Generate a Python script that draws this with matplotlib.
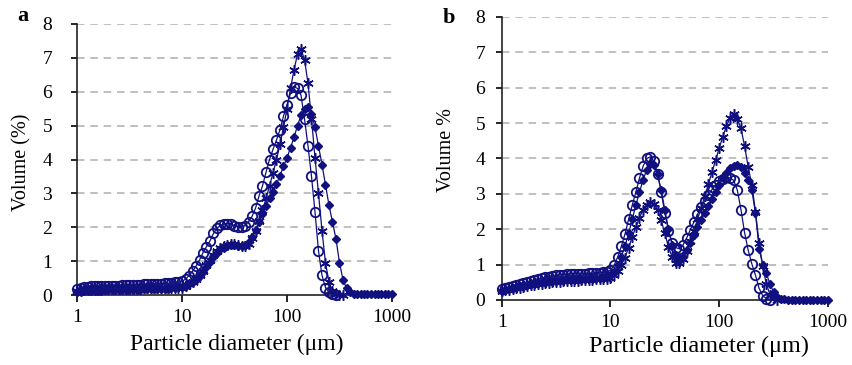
import matplotlib
matplotlib.use("Agg")
import matplotlib.pyplot as plt
from matplotlib.ticker import NullLocator, FixedLocator, FixedFormatter

plt.rcParams['font.family'] = ['Liberation Serif', 'DejaVu Serif']

# Particle diameter channels (um)
diameter = [1.000, 1.080, 1.166, 1.259, 1.359, 1.468, 1.585, 1.711, 1.848, 1.995,
            2.154, 2.326, 2.512, 2.712, 2.929, 3.162, 3.415, 3.687, 3.981, 4.299,
            4.642, 5.012, 5.412, 5.843, 6.310, 6.813, 7.356, 7.943, 8.577, 9.261,
            10.00, 10.80, 11.66, 12.59, 13.59, 14.68, 15.85, 17.11, 18.48, 19.95,
            21.54, 23.26, 25.12, 27.12, 29.29, 31.62, 34.15, 36.87, 39.81, 42.99,
            46.42, 50.12, 54.12, 58.43, 63.10, 68.13, 73.56, 79.43, 85.77, 92.61,
            100.0, 108.0, 116.6, 125.9, 135.9, 146.8, 158.5, 171.1, 184.8, 199.5,
            215.4, 232.6, 251.2, 271.2, 292.9, 316.2, 341.5, 368.7, 398.1, 429.9,
            464.2, 501.2, 541.2, 584.3, 631.0, 681.3, 735.6, 794.3, 857.7, 926.1,
            1000.0]

# Panel a
a_circle = [0.18, 0.22, 0.24, 0.25, 0.26, 0.26, 0.27, 0.27, 0.27, 0.28,
            0.28, 0.28, 0.28, 0.29, 0.29, 0.29, 0.30, 0.30, 0.30, 0.31,
            0.31, 0.32, 0.32, 0.33, 0.33, 0.34, 0.35, 0.36, 0.37, 0.38,
            0.40, 0.47, 0.57, 0.70, 0.85, 1.03, 1.25, 1.43, 1.60, 1.82,
            1.97, 2.06, 2.10, 2.11, 2.09, 2.05, 2.01, 2.00, 2.05, 2.16,
            2.32, 2.56, 2.92, 3.22, 3.62, 4.00, 4.30, 4.58, 4.88, 5.28,
            5.62, 5.95, 6.14, 6.10, 5.90, 5.20, 4.40, 3.50, 2.45, 1.30,
            0.58, 0.22, 0.08, 0.02, 0.00]
a_star = [0.12, 0.14, 0.15, 0.15, 0.16, 0.16, 0.16, 0.17, 0.17, 0.17,
          0.17, 0.18, 0.18, 0.18, 0.18, 0.19, 0.19, 0.19, 0.19, 0.20,
          0.20, 0.20, 0.20, 0.21, 0.21, 0.21, 0.22, 0.22, 0.22, 0.22,
          0.22, 0.26, 0.31, 0.38, 0.47, 0.58, 0.72, 0.88, 1.04, 1.18,
          1.30, 1.38, 1.44, 1.48, 1.50, 1.50, 1.48, 1.45, 1.45, 1.52,
          1.68, 1.90, 2.18, 2.50, 2.85, 3.22, 3.60, 4.00, 4.45, 4.95,
          5.50, 6.10, 6.65, 7.10, 7.25, 6.95, 6.25, 5.20, 4.05, 3.00,
          1.90, 0.95, 0.38, 0.12, 0.04, 0.01, 0.00]
a_diamond = [0.08, 0.10, 0.11, 0.12, 0.12, 0.13, 0.13, 0.13, 0.14, 0.14,
             0.14, 0.15, 0.15, 0.15, 0.15, 0.16, 0.16, 0.16, 0.16, 0.17,
             0.17, 0.17, 0.18, 0.18, 0.18, 0.19, 0.19, 0.20, 0.21, 0.23,
             0.25, 0.28, 0.32, 0.38, 0.45, 0.55, 0.68, 0.82, 0.97, 1.12,
             1.25, 1.35, 1.40, 1.45, 1.47, 1.47, 1.46, 1.45, 1.48, 1.56,
             1.72, 1.92, 2.15, 2.40, 2.62, 2.85, 3.05, 3.28, 3.52, 3.80,
             4.05, 4.35, 4.65, 5.00, 5.30, 5.50, 5.55, 5.35, 4.95, 4.40,
             3.85, 3.25, 2.65, 2.15, 1.65, 0.95, 0.45, 0.20, 0.08, 0.04,
             0.02, 0.02, 0.02, 0.02, 0.02, 0.02, 0.02, 0.02, 0.02, 0.02,
             0.02]

# Panel b
b_circle = [0.30, 0.33, 0.36, 0.39, 0.42, 0.45, 0.48, 0.51, 0.54, 0.57,
            0.60, 0.62, 0.64, 0.66, 0.68, 0.70, 0.71, 0.72, 0.73, 0.74,
            0.74, 0.74, 0.74, 0.74, 0.75, 0.75, 0.76, 0.77, 0.78, 0.80,
            0.84, 0.98, 1.22, 1.52, 1.86, 2.28, 2.68, 3.05, 3.45, 3.78,
            4.00, 4.05, 3.92, 3.55, 3.05, 2.45, 1.95, 1.62, 1.48, 1.45,
            1.55, 1.75, 1.98, 2.20, 2.42, 2.62, 2.80, 2.97, 3.12, 3.25,
            3.35, 3.43, 3.47, 3.45, 3.38, 3.10, 2.55, 1.90, 1.40, 1.02,
            0.70, 0.33, 0.12, 0.04, 0.01]
b_star = [0.25, 0.27, 0.29, 0.31, 0.33, 0.35, 0.37, 0.39, 0.41, 0.43,
          0.45, 0.46, 0.48, 0.49, 0.50, 0.51, 0.52, 0.53, 0.54, 0.54,
          0.55, 0.55, 0.56, 0.56, 0.57, 0.57, 0.58, 0.58, 0.59, 0.60,
          0.63, 0.70, 0.82, 0.98, 1.20, 1.48, 1.78, 2.06, 2.33, 2.54,
          2.68, 2.76, 2.72, 2.55, 2.25, 1.88, 1.50, 1.22, 1.06, 1.04,
          1.16, 1.38, 1.66, 1.96, 2.28, 2.60, 2.93, 3.27, 3.62, 3.95,
          4.30, 4.62, 4.92, 5.15, 5.25, 5.12, 4.85, 4.35, 3.75, 3.25,
          2.50, 1.60, 0.95, 0.45, 0.15, 0.05, 0.01]
b_diamond = [0.25, 0.28, 0.31, 0.34, 0.37, 0.39, 0.41, 0.43, 0.45, 0.47,
             0.49, 0.50, 0.52, 0.53, 0.54, 0.55, 0.56, 0.57, 0.58, 0.58,
             0.59, 0.59, 0.60, 0.60, 0.61, 0.61, 0.62, 0.63, 0.65, 0.67,
             0.70, 0.80, 0.98, 1.22, 1.52, 1.88, 2.28, 2.68, 3.05, 3.40,
             3.68, 3.85, 3.82, 3.55, 3.10, 2.55, 2.00, 1.55, 1.28, 1.18,
             1.22, 1.40, 1.62, 1.85, 2.05, 2.25, 2.45, 2.65, 2.85, 3.05,
             3.25, 3.45, 3.60, 3.72, 3.80, 3.82, 3.75, 3.60, 3.40, 3.10,
             2.45, 1.45, 1.00, 0.75, 0.45, 0.22, 0.08, 0.03, 0.02, 0.01,
             0.01, 0.01, 0.01, 0.01, 0.01, 0.01, 0.01, 0.01, 0.01, 0.01,
             0.01]

xticks = [1, 10, 100, 1000]
xticklabels = ['1', '10', '100', '1000']
yticks = [0, 1, 2, 3, 4, 5, 6, 7, 8]

NAVY = '#10107f'
W, H = 853, 365

fig = plt.figure(figsize=(W / 100, H / 100), dpi=100)
ax_a = fig.add_axes([77 / W, 70 / H, 315 / W, 271 / H])
ax_b = fig.add_axes([501.7 / W, 65 / H, 326.3 / W, 283 / H])


def draw(ax, circ, star, diam, ylabel_pad):
    ax.set_xscale('log')
    ax.set_xlim(1, 1000)
    ax.set_ylim(0, 8)
    for y in yticks[1:]:
        ax.axhline(y, color='#b4b4b4', lw=1.2, ls=(0, (4.5, 3.5)), zorder=0)
    ax.plot(diameter[:len(circ)], circ, color=NAVY, lw=0.9, marker='o',
            ms=6.8, mfc='none', mec=NAVY, mew=1.3, zorder=3, clip_on=False)
    ax.plot(diameter[:len(star)], star, color=NAVY, lw=0.9, marker=(6, 2, 0),
            ms=7.5, mec=NAVY, mew=1.1, zorder=4, clip_on=False)
    ax.plot(diameter[:len(diam)], diam, color=NAVY, lw=0.9, marker='D',
            ms=3.8, mfc=NAVY, mec=NAVY, zorder=5, clip_on=False)
    for s in ('top', 'right'):
        ax.spines[s].set_visible(False)
    for s in ('left', 'bottom'):
        ax.spines[s].set_linewidth(1.2)
        ax.spines[s].set_color('#222222')
    ax.xaxis.set_major_locator(FixedLocator(xticks))
    ax.xaxis.set_major_formatter(FixedFormatter(xticklabels))
    ax.xaxis.set_minor_locator(NullLocator())
    ax.set_yticks(yticks)
    ax.tick_params(axis='x', direction='out', length=5, width=1.2,
                   labelsize=14, pad=5)
    ax.tick_params(axis='y', direction='out', length=4, width=1.2,
                   labelsize=14, pad=ylabel_pad)


draw(ax_a, a_circle, a_star, a_diamond, 14)
draw(ax_b, b_circle, b_star, b_diamond, 8)

fig.text(237 / W, 1 - 344 / H, 'Particle diameter (\u03bcm)', ha='center',
         va='center', fontsize=17)
fig.text(699 / W, 1 - 346 / H, 'Particle diameter (\u03bcm)', ha='center',
         va='center', fontsize=17.5)
fig.text(22 / W, 1 - 162 / H, 'Volume (%)', rotation=90, ha='center',
         va='center', fontsize=14.5)
fig.text(447 / W, 1 - 150 / H, 'Volume %', rotation=90, ha='center',
         va='center', fontsize=14.5)
fig.text(23 / W, 1 - 16 / H, 'a', ha='center', va='center', fontsize=16,
         fontweight='bold')
fig.text(449 / W, 1 - 18 / H, 'b', ha='center', va='center', fontsize=16,
         fontweight='bold')

fig.savefig('out.png', dpi=100)
